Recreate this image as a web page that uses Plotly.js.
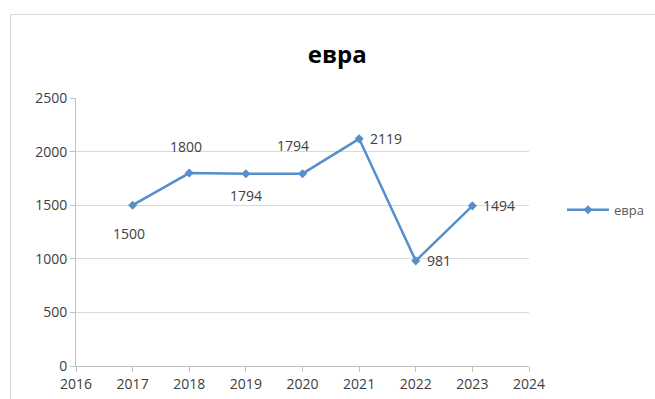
<!DOCTYPE html>
<html>
<head>
<meta charset="utf-8">
<script src="https://cdn.plot.ly/plotly-3.0.1.min.js"></script>
<style>
html,body{margin:0;padding:0;background:#fff;}
#frame{position:absolute;left:10px;top:14px;width:700px;height:450px;border:1px solid #d9d9d9;pointer-events:none;}
#chart{position:absolute;left:0;top:0;width:655px;height:399px;}
</style>
</head>
<body>
<div id="frame"></div>
<div id="chart"></div>
<script>
const seriesName = "евра";
const years = [2017, 2018, 2019, 2020, 2021, 2022, 2023];
const values = [1500, 1800, 1794, 1794, 2119, 981, 1494];
const labels = ["1500", "1800", "1794", "1794", "2119", "981", "1494"];

// label placement (style): [xshift, yshift, xanchor]
const labelPlacement = [
  [-4, -28, "center"],
  [-3, 27, "center"],
  [0, -22, "center"],
  [-10, 28, "center"],
  [9, 0, "left"],
  [9, 0, "left"],
  [9, 0, "left"]
];

const lineColor = "#5590cc";
const textColor = "#404040";
const fontFam = "'Open Sans', sans-serif";

const trace = {
  x: years,
  y: values,
  type: "scatter",
  mode: "lines+markers",
  name: seriesName,
  line: {color: lineColor, width: 2.5},
  marker: {symbol: "diamond", size: 7, color: lineColor}
};

const annotations = years.map((yr, i) => ({
  x: yr, y: values[i], xref: "x", yref: "y",
  text: labels[i], showarrow: false,
  xanchor: labelPlacement[i][2], yanchor: "middle",
  xshift: labelPlacement[i][0], yshift: labelPlacement[i][1],
  font: {family: fontFam, size: 14, color: textColor}
}));

const layout = {
  width: 655, height: 399,
  margin: {l: 76, r: 126, t: 98, b: 33},
  paper_bgcolor: "rgba(0,0,0,0)",
  plot_bgcolor: "rgba(0,0,0,0)",
  title: {
    text: "<b>" + seriesName + "</b>",
    x: 0.515, xanchor: "center",
    y: 0.862, yanchor: "middle", yref: "container",
    font: {family: fontFam, size: 24, color: "#000"}
  },
  xaxis: {
    range: [2016, 2024], dtick: 1, tick0: 2016,
    showgrid: false, zeroline: false,
    showline: true, linecolor: "#bfbfbf", linewidth: 1,
    ticks: "outside", ticklen: 5, tickcolor: "#bfbfbf",
    tickfont: {family: fontFam, size: 14, color: "#404040"},
    fixedrange: true
  },
  yaxis: {
    range: [0, 2500], dtick: 500, tick0: 0,
    showgrid: true, gridcolor: "#d9d9d9", gridwidth: 1,
    zeroline: false,
    showline: true, linecolor: "#bfbfbf", linewidth: 1,
    ticks: "outside", ticklen: 5, tickcolor: "#bfbfbf",
    tickfont: {family: fontFam, size: 14, color: "#404040"},
    fixedrange: true
  },
  showlegend: true,
  legend: {
    xref: "container", yref: "container",
    x: 0.858, xanchor: "left", y: 0.474, yanchor: "middle",
    itemwidth: 42,
    font: {family: fontFam, size: 13, color: "#595959"},
    bgcolor: "rgba(0,0,0,0)"
  },
  annotations: annotations
};

Plotly.newPlot("chart", [trace], layout, {displayModeBar: false, staticPlot: true});
</script>
</body>
</html>
